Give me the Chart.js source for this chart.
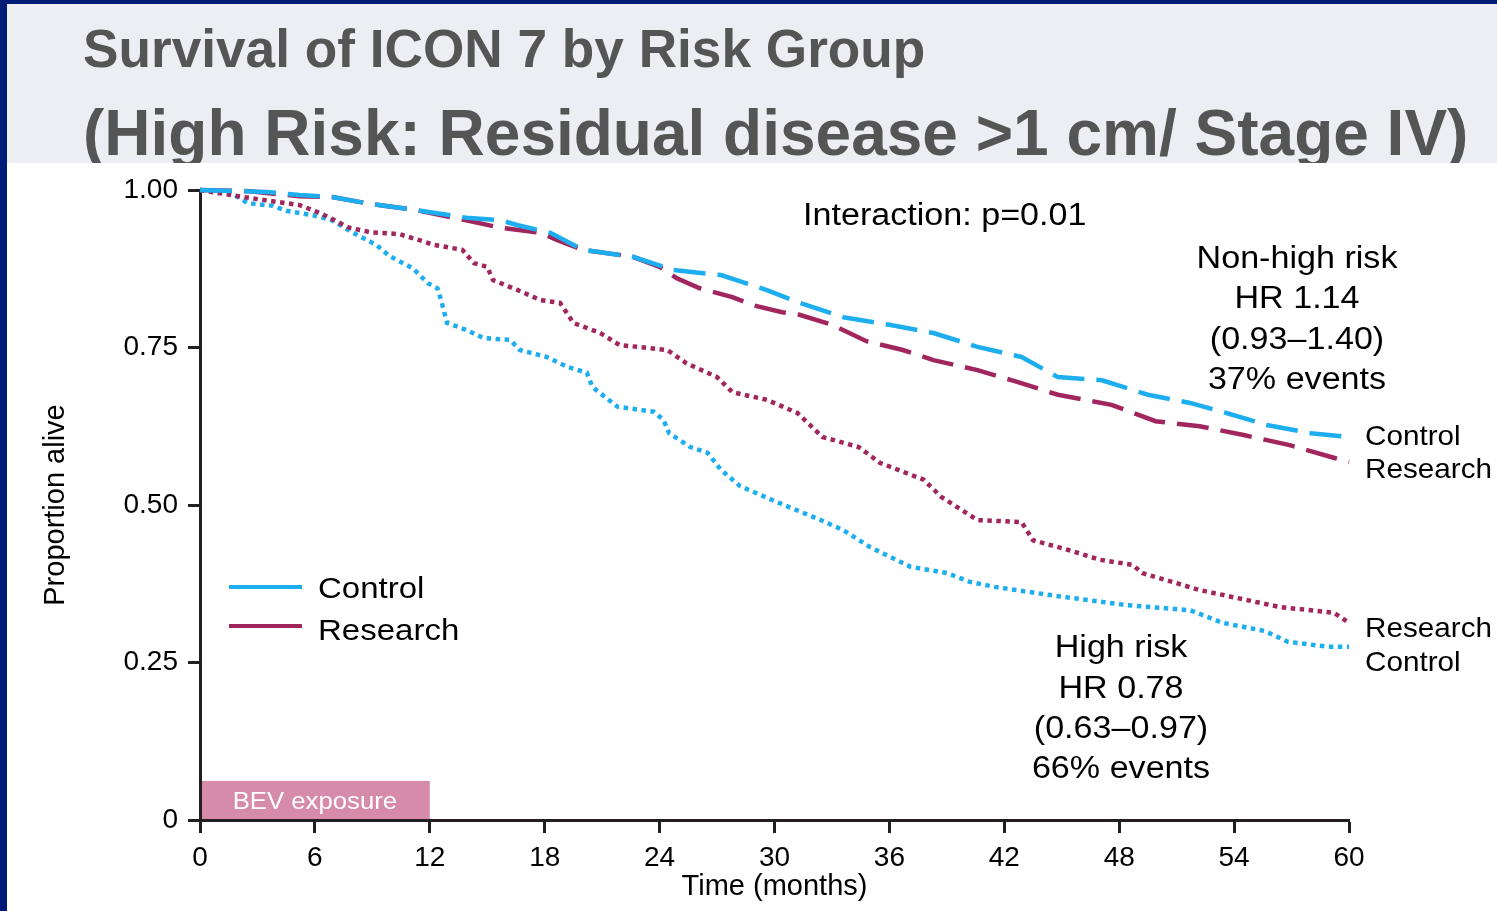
<!DOCTYPE html>
<html><head><meta charset="utf-8">
<script src="https://cdn.jsdelivr.net/npm/chart.js@4.4.1/dist/chart.umd.min.js"></script>
<style>
html,body{margin:0;padding:0;}
body{width:1497px;height:911px;background:#001A78;position:relative;overflow:hidden;font-family:"Liberation Sans",Arial,sans-serif;}
#band{position:absolute;left:7px;top:4px;width:1490px;height:159px;background:#EDEEF3;overflow:hidden;}
.t{position:absolute;left:76px;white-space:nowrap;font-weight:bold;color:#555555;line-height:1;}
#t1{top:18px;font-size:53.2px;}
#t2{top:97px;font-size:64px;}
#wrap{position:absolute;left:7px;top:163px;width:1490px;height:748px;background:#fff;}
canvas{display:block;}
</style></head>
<body>
<div id="band"><div class="t" id="t1">Survival of ICON 7 by Risk Group</div><div class="t" id="t2">(High Risk: Residual disease &gt;1 cm/ Stage IV)</div></div>
<div id="wrap"><canvas id="c" width="1490" height="748"></canvas></div>
<script>
// ---- data ----
const xTickValues = [0, 6, 12, 18, 24, 30, 36, 42, 48, 54, 60];
const xTickLabels = ['0', '6', '12', '18', '24', '30', '36', '42', '48', '54', '60'];
const yTickValues = [0, 0.25, 0.5, 0.75, 1];
const yTickLabels = ['0', '0.25', '0.50', '0.75', '1.00'];
const armNames = ['Control', 'Research'];

// Non-high risk (dashed)
const nhCtrlT = [0,3.5,5.2,6.9,8.7,11.3,13.9,15.7,16.6,18.3,20,22.6,24.7,27.2,29.6,31.2,33.6,36,38.3,40.6,42.9,44.8,47.1,49.5,51.7,53.6,55.7,58,60];
const nhCtrlS = [1,0.997,0.992,0.989,0.979,0.968,0.956,0.952,0.944,0.932,0.905,0.894,0.873,0.865,0.841,0.822,0.798,0.786,0.773,0.751,0.735,0.703,0.698,0.675,0.662,0.646,0.627,0.614,0.608];
const nhResT = [0,2.6,5.2,6.9,8.7,11.3,13.9,15.7,17.8,18.6,20,22.6,24,24.9,26.1,27.8,28.9,30.4,31.3,33,34.8,36.7,38.3,40.6,42.5,44.8,47.6,49.9,52.2,54.5,56.9,59.2,60];
const nhResS = [1,0.998,0.990,0.989,0.979,0.968,0.952,0.940,0.932,0.921,0.905,0.894,0.878,0.860,0.844,0.830,0.817,0.806,0.802,0.786,0.760,0.746,0.730,0.714,0.697,0.675,0.659,0.633,0.625,0.611,0.595,0.575,0.568];

// High risk (dotted)
const hiCtrlT = [0,1.7,2.5,3.8,4.5,5.9,6.9,8.0,9.2,9.9,11.1,11.9,12.4,12.6,12.9,13.9,14.8,16.2,16.7,18.1,19.2,20.2,20.5,21.8,23.7,24.2,24.5,25.6,26.5,27.2,28.2,30.1,31.3,32.5,33.6,35,37.1,39,40.2,41.5,44.4,48.4,51.7,53.4,55.6,56.8,58.9,60];
const hiCtrlS = [1,0.994,0.979,0.975,0.967,0.960,0.952,0.932,0.913,0.895,0.876,0.852,0.844,0.824,0.789,0.778,0.765,0.762,0.746,0.735,0.719,0.710,0.687,0.656,0.648,0.635,0.614,0.592,0.583,0.556,0.530,0.505,0.490,0.475,0.460,0.433,0.402,0.392,0.378,0.370,0.357,0.341,0.333,0.313,0.300,0.283,0.275,0.275];
const hiResT = [0,2,5.2,6.3,7.8,8.9,10.4,11.5,12.2,13.7,14.3,15,15.3,16.6,17.8,18.8,19.5,20.9,21.9,24.4,25.4,27,27.8,29.6,31.2,32.5,34.4,35.5,37.8,38.7,40.6,42.9,43.5,45.3,47,48.7,49.2,52.2,56.4,59.2,60];
const hiResS = [1,0.99,0.976,0.963,0.94,0.933,0.93,0.92,0.913,0.905,0.884,0.878,0.857,0.841,0.825,0.821,0.789,0.773,0.754,0.746,0.725,0.703,0.679,0.667,0.646,0.608,0.592,0.567,0.540,0.513,0.476,0.473,0.444,0.429,0.413,0.405,0.392,0.365,0.338,0.329,0.313];

// BEV exposure band (months, proportion)
const bevStart = 0, bevEnd = 12, bevTop = 0.062;
const bevLabel = 'BEV exposure';
const interactionText = 'Interaction: p=0.01';
const nonHighText = ['Non-high risk', 'HR 1.14', '(0.93\u20131.40)', '37% events'];
const highText = ['High risk', 'HR 0.78', '(0.63\u20130.97)', '66% events'];

// ---- styling ----
const BLUE = '#1DAEEF', MAG = '#A2265E', AXIS = '#231F20', BEVC = '#D68BAA';
const FF = '"Liberation Sans", Arial, Helvetica, sans-serif';
const OX = 7, OY = 163; // canvas offset in page

function pts(t, s) { return t.map((v, i) => ({ x: v, y: s[i] })); }
function ds(label, t, s, color, dash, width) {
  return { label, data: pts(t, s), borderColor: color, backgroundColor: color, borderWidth: width,
    borderDash: dash, tension: 0, pointRadius: 0, fill: false, clip: false, borderCapStyle: 'butt' };
}

function txt(ctx, s, x, y, size, align, sx, color) {
  ctx.save();
  ctx.font = size + 'px ' + FF;
  ctx.fillStyle = color || '#000';
  ctx.textBaseline = 'alphabetic';
  ctx.textAlign = align;
  ctx.translate(x - OX, y - OY);
  ctx.scale(sx, 1);
  ctx.fillText(s, 0, 0);
  ctx.restore();
}

const deco = {
  id: 'deco',
  beforeDraw(chart) {
    const { ctx, scales: { x, y } } = chart;
    const x0 = x.getPixelForValue(bevStart), x1 = x.getPixelForValue(bevEnd);
    const y0 = y.getPixelForValue(0), y1 = y.getPixelForValue(bevTop);
    ctx.save();
    ctx.fillStyle = BEVC;
    ctx.fillRect(x0, y1, x1 - x0, y0 - y1);
    ctx.restore();
    txt(ctx, bevLabel, (x0 + x1) / 2 + OX, y0 - 11 + OY, 24.5, 'center', 1.05, '#FFFFFF');
  },
  afterDraw(chart) {
    const { ctx } = chart;
    txt(ctx, interactionText, 803, 225, 31, 'left', 1.1);
    const nb = [268, 308, 349, 389];
    nonHighText.forEach((s, i) => txt(ctx, s, 1297, nb[i], 31, 'center', 1.1));
    const hb = [657, 698, 738, 778];
    highText.forEach((s, i) => txt(ctx, s, 1121, hb[i], 31, 'center', 1.1));
    txt(ctx, armNames[0], 1365, 445, 28, 'left', 1.06);
    txt(ctx, armNames[1], 1365, 478, 28, 'left', 1.06);
    txt(ctx, armNames[1], 1365, 637, 28, 'left', 1.06);
    txt(ctx, armNames[0], 1365, 671, 28, 'left', 1.06);
    // legend
    ctx.save();
    ctx.lineWidth = 4;
    ctx.strokeStyle = BLUE;
    ctx.beginPath(); ctx.moveTo(229 - OX, 587 - OY); ctx.lineTo(302 - OX, 587 - OY); ctx.stroke();
    ctx.strokeStyle = MAG;
    ctx.beginPath(); ctx.moveTo(229 - OX, 626 - OY); ctx.lineTo(302 - OX, 626 - OY); ctx.stroke();
    ctx.restore();
    txt(ctx, armNames[0], 318, 598, 30, 'left', 1.1);
    txt(ctx, armNames[1], 318, 640, 30, 'left', 1.1);
  }
};

new Chart(document.getElementById('c'), {
  type: 'line',
  data: {
    datasets: [
      ds('Control (non-high risk)', nhCtrlT, nhCtrlS, BLUE, [32, 12], 4.5),
      ds('Research (non-high risk)', nhResT, nhResS, MAG, [32, 12], 4.5),
      ds('Research (high risk)', hiResT, hiResS, MAG, [4.5, 4.5], 4.5),
      ds('Control (high risk)', hiCtrlT, hiCtrlS, BLUE, [4.5, 4.5], 4.5)
    ]
  },
  options: {
    responsive: false,
    devicePixelRatio: 1,
    animation: false,
    layout: { padding: { left: 0, top: 27, right: 148, bottom: 0 } },
    plugins: { legend: { display: false }, tooltip: { enabled: false } },
    scales: {
      x: {
        type: 'linear', min: 0, max: 60,
        afterBuildTicks: s => { s.ticks = xTickValues.map(v => ({ value: v })); },
        afterFit: s => { s.height = 91; },
        ticks: { callback: v => xTickLabels[xTickValues.indexOf(v)], font: { size: 28, family: FF }, color: '#000', padding: 8, maxRotation: 0, autoSkip: false },
        grid: { drawOnChartArea: false, drawTicks: true, tickLength: 13, tickWidth: 3, tickColor: AXIS },
        border: { display: true, color: AXIS, width: 3 },
        title: { display: true, text: 'Time (months)', font: { size: 29, family: FF }, color: '#000', padding: { top: 0, bottom: 7 } }
      },
      y: {
        type: 'linear', min: 0, max: 1,
        afterBuildTicks: s => { s.ticks = yTickValues.map(v => ({ value: v })); },
        afterFit: s => { s.width = 193; },
        ticks: { callback: v => yTickLabels[yTickValues.indexOf(v)], font: { size: 28, family: FF }, color: '#000', padding: 10 },
        grid: { drawOnChartArea: false, drawTicks: true, tickLength: 12, tickWidth: 3, tickColor: AXIS },
        border: { display: true, color: AXIS, width: 3 },
        title: { display: true, text: 'Proportion alive', font: { size: 29, family: FF }, color: '#000', padding: { top: 32, bottom: 0 } }
      }
    }
  },
  plugins: [deco]
});
</script>
</body></html>
